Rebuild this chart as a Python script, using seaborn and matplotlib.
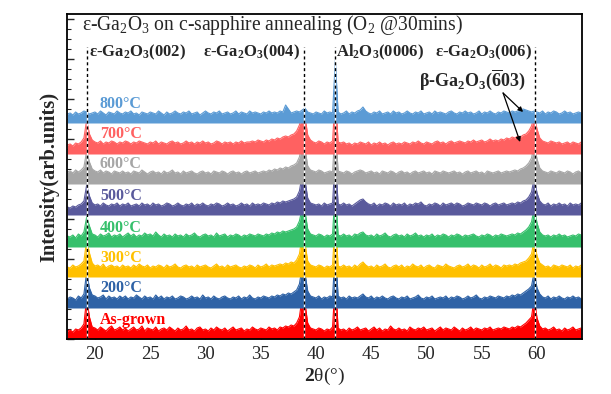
import numpy as np
import matplotlib
matplotlib.use("Agg")
import matplotlib.pyplot as plt
import seaborn as sns
from matplotlib.ticker import MultipleLocator

# ---------------- data ----------------
two_theta_start = 17.5
two_theta_step = 0.25

labels = ["As-grown", "200°C", "300°C", "400°C", "500°C", "600°C", "700°C", "800°C"]
colors = ["#FF0000", "#2E62A6", "#FFC000", "#36C06C", "#5A5A9C", "#A6A6A6", "#FF6161", "#5B9BD5"]
offsets = [0, 31, 62, 92, 124, 155, 185, 216]

as_grown = [
    8, 9, 7, 10, 9, 11, 15, 41, 22, 12,
    11, 9, 12, 10, 8, 11, 13, 9, 10, 12,
    9, 11, 8, 10, 12, 9, 10, 13, 8, 11,
    10, 9, 12, 8, 10, 11, 9, 12, 10, 8,
    11, 9, 10, 13, 9, 10, 8, 11, 12, 9,
    10, 8, 11, 9, 12, 10, 9, 11, 8, 10,
    12, 9, 10, 11, 8, 10, 9, 12, 10, 9,
    11, 10, 9, 12, 10, 11, 9, 12, 11, 13,
    12, 14, 13, 16, 22, 42, 36, 16, 11, 10,
    9, 11, 10, 8, 10, 9, 12, 60, 11, 9,
    10, 8, 11, 9, 10, 12, 9, 10, 11, 8,
    10, 12, 9, 11, 8, 10, 9, 13, 10, 9,
    11, 9, 10, 8, 12, 10, 9, 11, 10, 12,
    9, 10, 11, 8, 10, 12, 9, 11, 10, 9,
    12, 10, 8, 11, 9, 10, 12, 9, 11, 10,
    9, 11, 10, 12, 9, 10, 11, 10, 12, 11,
    10, 12, 11, 13, 12, 14, 16, 19, 22, 41,
    21, 13, 10, 11, 9, 10, 12, 9, 10, 8,
    11, 9, 10, 12, 9, 10, 11]

t200 = [
    9, 11, 10, 8, 12, 10, 14, 36, 20, 13,
    12, 10, 11, 13, 9, 12, 10, 11, 9, 12,
    10, 12, 9, 11, 10, 13, 11, 9, 12, 10,
    11, 9, 13, 10, 12, 9, 11, 10, 12, 9,
    10, 12, 11, 9, 10, 12, 10, 11, 9, 13,
    10, 11, 9, 12, 10, 9, 11, 12, 10, 9,
    11, 10, 12, 9, 11, 10, 13, 10, 9, 11,
    10, 12, 11, 10, 12, 11, 13, 12, 14, 13,
    15, 14, 16, 18, 24, 41, 35, 17, 12, 11,
    10, 12, 9, 11, 10, 12, 11, 60, 12, 10,
    11, 9, 12, 10, 11, 10, 12, 14, 11, 10,
    12, 9, 11, 10, 12, 10, 9, 11, 12, 10,
    9, 11, 10, 12, 9, 10, 11, 13, 10, 9,
    11, 10, 12, 9, 10, 11, 10, 12, 9, 11,
    10, 12, 11, 9, 10, 12, 10, 11, 13, 10,
    9, 11, 10, 12, 11, 10, 12, 11, 10, 12,
    11, 13, 12, 14, 13, 15, 17, 19, 22, 36,
    20, 14, 11, 10, 12, 9, 11, 10, 12, 10,
    9, 11, 10, 12, 10, 11, 9]

t300 = [
    10, 9, 12, 10, 11, 13, 16, 37, 24, 14,
    11, 12, 10, 13, 9, 11, 12, 10, 11, 9,
    12, 10, 11, 9, 12, 10, 13, 11, 10, 12,
    9, 11, 10, 12, 11, 9, 12, 10, 11, 13,
    10, 9, 11, 12, 10, 11, 9, 12, 10, 11,
    12, 10, 9, 11, 13, 10, 11, 9, 12, 10,
    11, 12, 10, 9, 11, 10, 12, 11, 9, 12,
    10, 11, 13, 10, 12, 11, 12, 13, 12, 14,
    13, 15, 14, 17, 23, 42, 34, 16, 12, 11,
    10, 12, 11, 9, 11, 10, 12, 60, 11, 10,
    12, 10, 11, 9, 12, 10, 13, 15, 12, 10,
    11, 9, 12, 10, 11, 13, 10, 9, 11, 12,
    10, 12, 9, 11, 10, 13, 11, 10, 12, 9,
    11, 12, 10, 9, 12, 11, 10, 13, 11, 10,
    9, 11, 12, 10, 11, 13, 10, 12, 11, 9,
    12, 10, 11, 13, 10, 12, 11, 9, 12, 11,
    12, 11, 13, 12, 14, 15, 16, 19, 23, 37,
    21, 14, 12, 10, 11, 9, 12, 11, 10, 12,
    11, 10, 12, 9, 11, 10, 12]

t400 = [
    11, 10, 12, 9, 13, 11, 15, 30, 21, 13,
    12, 10, 13, 11, 12, 14, 10, 12, 11, 13,
    10, 12, 14, 11, 13, 10, 12, 11, 14, 12,
    13, 11, 15, 12, 10, 13, 11, 12, 10, 13,
    11, 12, 10, 13, 11, 12, 14, 11, 10, 12,
    13, 11, 12, 10, 14, 11, 12, 13, 10, 12,
    11, 13, 12, 10, 12, 11, 13, 12, 11, 13,
    12, 11, 13, 12, 14, 13, 15, 14, 16, 15,
    16, 17, 18, 20, 26, 39, 36, 18, 13, 12,
    11, 13, 12, 10, 12, 11, 13, 60, 12, 11,
    13, 11, 12, 10, 13, 12, 14, 15, 12, 11,
    12, 10, 13, 11, 12, 14, 11, 10, 12, 13,
    11, 12, 10, 13, 11, 12, 14, 11, 12, 10,
    12, 11, 13, 10, 12, 11, 13, 12, 10, 12,
    11, 13, 12, 10, 12, 11, 12, 13, 11, 10,
    12, 11, 13, 12, 10, 12, 11, 13, 12, 11,
    12, 13, 12, 14, 13, 15, 17, 20, 25, 39,
    24, 15, 12, 11, 12, 10, 12, 11, 13, 11,
    12, 10, 11, 12, 11, 13, 12]

t500 = [
    8, 7, 9, 8, 10, 11, 14, 30, 19, 12,
    10, 11, 9, 12, 10, 9, 11, 10, 12, 9,
    11, 10, 12, 9, 10, 11, 9, 12, 10, 11,
    9, 12, 10, 11, 9, 10, 12, 11, 9, 10,
    12, 10, 9, 11, 10, 12, 9, 11, 10, 12,
    10, 9, 11, 10, 12, 11, 9, 10, 12, 10,
    11, 9, 10, 12, 10, 11, 9, 12, 10, 11,
    10, 12, 11, 10, 12, 11, 13, 12, 14, 13,
    14, 15, 16, 18, 24, 40, 35, 17, 12, 11,
    10, 11, 9, 12, 10, 11, 12, 60, 11, 10,
    12, 10, 11, 9, 11, 13, 15, 16, 13, 11,
    10, 12, 9, 11, 10, 12, 11, 9, 12, 10,
    11, 10, 12, 9, 11, 10, 12, 11, 13, 10,
    9, 11, 10, 12, 11, 9, 12, 10, 11, 12,
    10, 12, 11, 9, 10, 12, 11, 10, 12, 11,
    10, 12, 11, 9, 11, 12, 10, 11, 12, 10,
    11, 12, 11, 13, 12, 14, 15, 18, 23, 37,
    22, 14, 11, 10, 12, 9, 11, 10, 12, 10,
    11, 9, 12, 10, 11, 10, 12]

t600 = [
    12, 13, 11, 14, 12, 14, 17, 33, 22, 15,
    13, 12, 14, 11, 13, 12, 10, 13, 12, 11,
    13, 11, 12, 10, 13, 12, 11, 14, 12, 10,
    12, 13, 11, 12, 10, 13, 11, 12, 14, 11,
    12, 10, 13, 11, 12, 13, 11, 10, 12, 13,
    11, 12, 10, 13, 12, 11, 13, 12, 10, 12,
    13, 11, 12, 10, 12, 13, 11, 12, 13, 11,
    12, 13, 12, 14, 13, 15, 14, 16, 15, 17,
    16, 18, 19, 21, 27, 42, 36, 18, 14, 13,
    12, 14, 13, 11, 12, 13, 12, 60, 13, 12,
    11, 13, 12, 10, 12, 13, 14, 13, 11, 12,
    13, 11, 12, 10, 13, 12, 11, 13, 12, 10,
    12, 13, 11, 12, 10, 12, 13, 11, 12, 13,
    11, 12, 10, 13, 12, 11, 13, 12, 11, 12,
    13, 11, 12, 10, 12, 13, 11, 12, 13, 11,
    12, 10, 13, 12, 11, 12, 13, 11, 12, 13,
    12, 13, 14, 13, 15, 16, 18, 21, 26, 40,
    25, 16, 13, 12, 11, 13, 12, 11, 13, 12,
    11, 13, 12, 10, 12, 13, 11]

t700 = [
    9, 10, 8, 11, 10, 12, 16, 34, 20, 14,
    12, 11, 13, 10, 12, 11, 13, 12, 10, 12,
    11, 13, 12, 10, 12, 11, 13, 12, 11, 10,
    12, 11, 13, 10, 12, 11, 10, 12, 13, 11,
    12, 10, 11, 13, 11, 12, 10, 12, 11, 13,
    11, 12, 10, 11, 13, 12, 10, 12, 11, 12,
    10, 12, 11, 13, 11, 12, 12, 13, 12, 14,
    13, 12, 14, 13, 15, 14, 16, 15, 17, 18,
    17, 19, 20, 23, 29, 42, 38, 19, 14, 12,
    11, 13, 12, 10, 12, 11, 13, 60, 12, 11,
    12, 10, 11, 9, 11, 10, 12, 11, 10, 12,
    9, 11, 10, 12, 10, 11, 9, 11, 12, 10,
    11, 10, 12, 11, 10, 12, 11, 13, 11, 10,
    12, 11, 10, 12, 13, 11, 12, 10, 12, 13,
    11, 12, 13, 12, 11, 13, 12, 14, 12, 13,
    14, 12, 13, 15, 13, 14, 13, 15, 14, 16,
    15, 17, 16, 18, 17, 19, 20, 23, 28, 38,
    25, 16, 13, 12, 11, 13, 12, 11, 12, 10,
    11, 12, 10, 12, 11, 10, 12]

t800 = [
    9, 10, 8, 11, 9, 10, 12, 11, 9, 10,
    11, 9, 12, 10, 8, 11, 10, 9, 12, 10,
    9, 11, 10, 12, 9, 10, 8, 11, 10, 9,
    11, 10, 9, 12, 10, 8, 11, 9, 10, 12,
    10, 9, 11, 10, 12, 9, 10, 11, 8, 10,
    12, 10, 9, 11, 10, 12, 9, 10, 11, 9,
    10, 12, 9, 11, 10, 9, 12, 10, 11, 10,
    9, 11, 10, 12, 10, 11, 10, 12, 11, 18,
    14, 10, 11, 12, 11, 13, 15, 11, 10, 9,
    11, 10, 9, 12, 10, 11, 10, 63, 11, 9,
    10, 12, 9, 11, 10, 12, 13, 16, 12, 10,
    9, 11, 10, 12, 9, 10, 11, 9, 12, 10,
    11, 9, 10, 12, 10, 9, 11, 10, 12, 9,
    10, 11, 9, 12, 10, 11, 10, 9, 11, 12,
    10, 9, 11, 10, 12, 10, 11, 9, 10, 12,
    9, 11, 10, 12, 10, 9, 11, 10, 12, 11,
    10, 12, 11, 12, 13, 14, 13, 12, 11, 12,
    11, 10, 12, 9, 11, 10, 12, 11, 9, 10,
    12, 10, 11, 9, 10, 11, 10]

traces = [as_grown, t200, t300, t400, t500, t600, t700, t800]

ref_lines = [19.3, 38.9, 41.7, 59.8]
x_ticks = [20, 25, 30, 35, 40, 45, 50, 55, 60]

# ---------------- style ----------------
sns.set_theme(style="ticks")
plt.rcParams["font.family"] = ["Liberation Serif", "DejaVu Serif"]
plt.rcParams["mathtext.fontset"] = "custom"
plt.rcParams["mathtext.rm"] = "Liberation Serif"
plt.rcParams["mathtext.it"] = "Liberation Serif:italic"
plt.rcParams["mathtext.bf"] = "Liberation Serif:bold"
plt.rcParams["mathtext.default"] = "regular"

W, H = 611, 394
fig = plt.figure(figsize=(W / 100, H / 100), dpi=100)
ax = fig.add_axes([67 / W, 1 - 339 / H, (582 - 67) / W, (339 - 14) / H])

for i, (lab, col, off, tr) in enumerate(zip(labels, colors, offsets, traces)):
    y = np.asarray(tr, dtype=float)
    x = two_theta_start + two_theta_step * np.arange(len(y))
    ax.fill_between(x, off, off + y, color=col, lw=0, zorder=2 + i)
    sns.lineplot(x=x, y=off + y, color=col, lw=0.8, ax=ax, zorder=2 + i)
    ax.text(20.45, off + 19.5, lab, color=col, fontsize=11.5, fontweight="bold",
            ha="left", va="center", zorder=20)

for xl in ref_lines:
    ax.vlines(xl, 0, 292, color="white", lw=1.0, zorder=15)
    ax.vlines(xl, 0, 292, color="black", lw=1.0, linestyles=(0, (2.2, 2.0)), zorder=16)

ax.set_xlim(17.47, 64.07)
ax.set_ylim(0, 325)
ax.set_xticks(x_ticks)
ax.set_xticklabels([str(t) for t in x_ticks], fontsize=13.5)
ax.yaxis.set_major_locator(MultipleLocator(40))
ax.yaxis.set_minor_locator(MultipleLocator(10))
ax.set_yticklabels([])
ax.tick_params(axis="x", direction="in", length=4, width=1.0, pad=5, top=False)
ax.tick_params(axis="y", which="major", direction="in", length=5, width=1.0)
ax.tick_params(axis="y", which="minor", direction="in", length=3, width=0.8)
for s in ax.spines.values():
    s.set_color("black")
    s.set_linewidth(1.3)
    s.set_zorder(30)

ax.set_xlabel(r"$\mathbf{2}$θ(°)", fontsize=14, labelpad=2)
ax.set_ylabel("Intensity(arb.units)", fontsize=14.8, fontweight="bold")
ax.yaxis.set_label_coords(-0.014, 0.498)

ax.text(18.83, 314, r"ε-Ga$_2$O$_3$ on c-sapphire annealing (O$_2$ @30mins)",
        fontsize=14.1, ha="left", va="center", zorder=25)
ax.text(19.46, 287, r"ε-Ga$_2$O$_3$(002)", fontsize=12, fontweight="bold",
        ha="left", va="center", zorder=25)
ax.text(38.56, 287, r"ε-Ga$_2$O$_3$(004)", fontsize=12, fontweight="bold",
        ha="right", va="center", zorder=25)
ax.text(41.81, 287, r"Al$_2$O$_3$(0006)", fontsize=12, fontweight="bold",
        ha="left", va="center", zorder=25)
ax.text(59.55, 287, r"ε-Ga$_2$O$_3$(006)", fontsize=12, fontweight="bold",
        ha="right", va="center", zorder=25)
ax.text(54.12, 259, r"β-Ga$_2$O$_3$($\overline{6}$03)", fontsize=13, fontweight="bold",
        ha="center", va="center", zorder=25)
for tip in [(58.74, 227), (58.47, 197)]:
    ax.annotate("", xy=tip, xytext=(56.93, 246),
                arrowprops=dict(arrowstyle="-|>", color="black", lw=0.9,
                                mutation_scale=7, shrinkA=0, shrinkB=0),
                zorder=25)

fig.savefig("out.png", dpi=100)
